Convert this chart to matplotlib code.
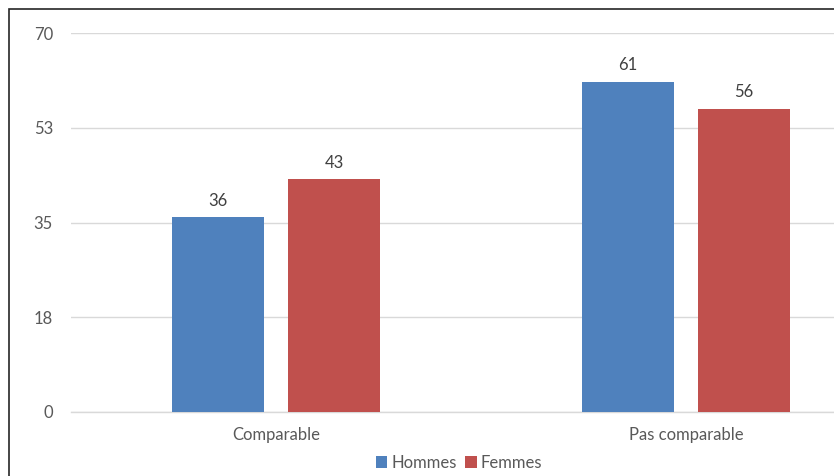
import matplotlib
matplotlib.use("Agg")
import matplotlib.pyplot as plt
from matplotlib.patches import Rectangle
import numpy as np

categories = ["Comparable", "Pas comparable"]
hommes = [36, 61]
femmes = [43, 56]
series_names = ["Hommes", "Femmes"]
y_ticks = [0, 17.5, 35, 52.5, 70]
y_tick_labels = ["0", "18", "35", "53", "70"]

plt.rcParams['font.family'] = ['Lato', 'DejaVu Sans']
txt = '#595959'
blue = '#4F81BD'
red = '#C0504D'

fig = plt.figure(figsize=(8.34, 4.76), dpi=100)
fig.patches.append(Rectangle((9/834, -0.1), 1.2, (476-9)/476 + 0.1, transform=fig.transFigure,
                             fill=False, edgecolor='#262626', linewidth=1.2, zorder=0))

ax = fig.add_axes([71/834, 64/476, 820/834, 379/476])
x = np.arange(len(categories))
w = 0.224
off = 0.142
b1 = ax.bar(x - off, hommes, w, color=blue, label=series_names[0], zorder=3)
b2 = ax.bar(x + off, femmes, w, color=red, label=series_names[1], zorder=3)
for bars, vals in ((b1, hommes), (b2, femmes)):
    for rect, v in zip(bars, vals):
        ax.annotate(f"{v}", (rect.get_x() + rect.get_width()/2, v), xytext=(0, 6),
                    textcoords='offset points', ha='center', va='bottom', fontsize=12, color='#404040')

ax.set_xlim(-0.5, 1.5)
ax.set_ylim(0, 70)
ax.set_yticks(y_ticks)
ax.set_yticklabels(y_tick_labels)
ax.set_xticks(x)
ax.set_xticklabels(categories)
ax.tick_params(axis='y', length=0, pad=13, labelsize=12, labelcolor=txt)
ax.tick_params(axis='x', length=0, pad=11, labelsize=12, labelcolor=txt)
ax.grid(axis='y', color='#D9D9D9', linewidth=1, zorder=0)
ax.set_axisbelow(True)
for s in ['top', 'right', 'left']:
    ax.spines[s].set_visible(False)
ax.spines['bottom'].set_color('#D9D9D9')
ax.spines['bottom'].set_linewidth(1)

leg = fig.legend(handles=[b1, b2], labels=series_names, loc='center', bbox_to_anchor=(459/834, 13/476),
                 ncol=2, frameon=False, fontsize=12, handlelength=0.7, handleheight=0.7,
                 handletextpad=0.25, columnspacing=0.5, labelcolor=txt)

fig.savefig("out.png", dpi=100)
